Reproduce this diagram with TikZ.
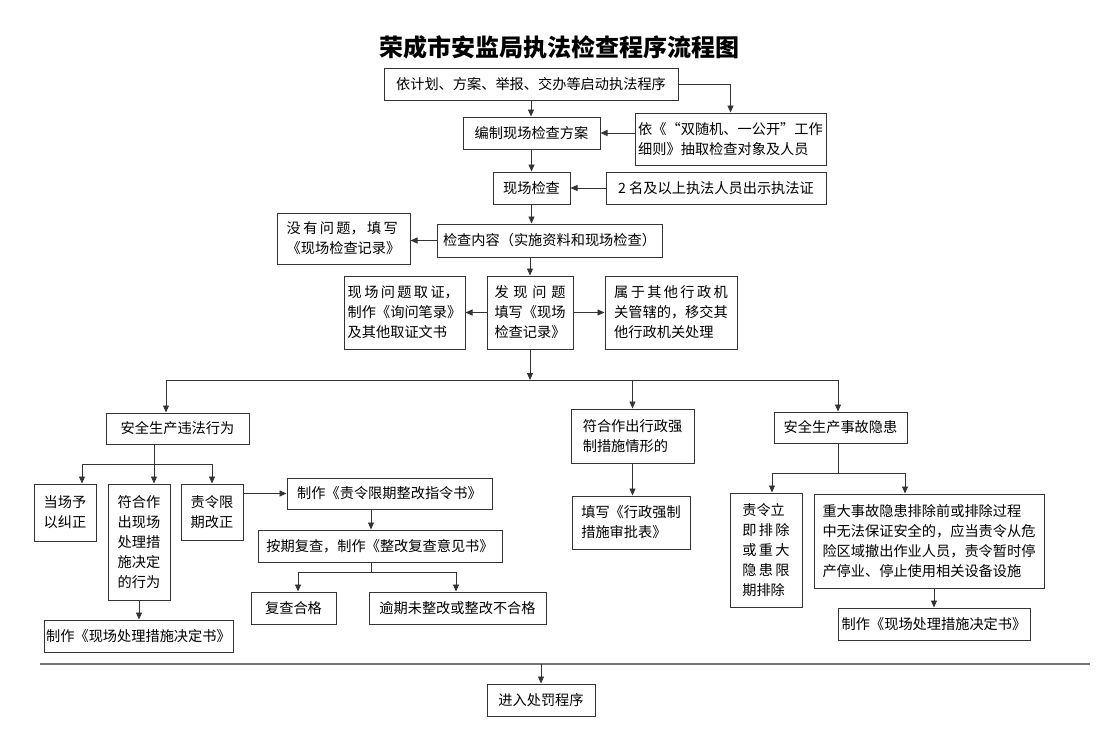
\documentclass[tikz,border=0pt]{standalone}
\usepackage{fontspec}
\setmainfont{Noto Sans CJK SC}
\usetikzlibrary{arrows.meta, positioning}

\newcommand{\flowtext}{\fontsize{14.2}{20}\selectfont}
\newcommand{\flowtitle}{\fontsize{24}{28}\selectfont\bfseries}

\begin{document}
\begin{tikzpicture}[
        x=1pt, y=-1pt,
        box/.style={
            rectangle,
            draw=black!80,
            line width=1pt,
            inner sep=0pt,
            align=center,
            font=\flowtext
        },
        wh/.style 2 args={minimum width=#1pt, minimum height=#2pt},
        link/.style={draw=black!80, line width=0.9pt},
        >={Triangle[length=7pt, width=6pt]}
    ]

    \useasboundingbox (0,0) rectangle (1112,742);

    % Title
    \node[font=\flowtitle] (title) at (559,47) {荣成市安监局执法检查程序流程图};

    % Nodes: upper part
    \node[box, wh={294}{32}] (start) at (531,84) {依计划、方案、举报、交办等启动执法程序};
    \node[box, wh={137}{32}] (plan) at (531.5,133) {编制现场检查方案};
    \node[box, wh={191}{52}, align=left] (rand) at (730.5,139) {依《“双随机、一公开”工作\\细则》抽取检查对象及人员};
    \node[box, wh={77}{32}] (check) at (531.5,188) {现场检查};
    \node[box, wh={220}{32}] (cert) at (716,188) {2 名及以上执法人员出示执法证};
    \node[box, wh={225}{33}] (content) at (549.5,240.5) {检查内容（实施资料和现场检查）};
    \node[box, wh={133}{51}, align=left] (none) at (343.5,238.5) {没\,有\,问\,题，\,填\,写\\《现场检查记录》};
    \node[box, wh={86}{73}] (found) at (530,312.5) {发\,\,现\,\,问\,\,题\\填写《现场\\检查记录》};
    \node[box, wh={121}{73}, align=left] (evid) at (404.5,312.5) {现\,场\,问\,题\,取\,证，\\制作《询问笔录》\\及其他取证文书};
    \node[box, wh={132}{73}, align=left] (other) at (671,312.5) {属\,于\,其\,他\,行\,政\,机\\关管辖的，移交其\\他行政机关处理};

    % Nodes: safety violations
    \node[box, wh={143}{31}] (viol) at (177.5,428.5) {安全生产违法行为};
    \node[box, wh={62}{57}] (spot) at (65,512.5) {当场予\\以纠正};
    \node[box, wh={62}{116}] (onsite) at (139,542) {符合作\\出现场\\处理措\\施决定\\的行为};
    \node[box, wh={62}{56}] (order) at (212,512) {责令限\\期改正};
    \node[box, wh={205}{31}] (decree) at (389.5,493.5) {制作《责令限期整改指令书》};
    \node[box, wh={244}{32}] (review) at (380,546) {按期复查，制作《整改复查意见书》};
    \node[box, wh={85}{32}] (pass) at (293.5,608) {复查合格};
    \node[box, wh={177}{32}] (fail) at (457.5,608) {逾期未整改或整改不合格};
    \node[box, wh={189}{32}] (decL) at (138.5,636) {制作《现场处理措施决定书》};

    % Nodes: compulsory measures
    \node[box, wh={123}{54}, align=left] (force) at (632.5,436) {符合作出行政强\\制措施情形的};
    \node[box, wh={118}{53}, align=left] (form) at (631,522.5) {填写《行政强制\\措施审批表》};

    % Nodes: hidden hazards
    \node[box, wh={133}{31}] (hazard) at (840.5,427.5) {安全生产事故隐患};
    \node[box, wh={72}{114}, align=left] (immed) at (766,550) {责令立\\即\,排\,除\\或\,重\,大\\隐\,患\,限\\期排除};
    \node[box, wh={230}{94}, align=left] (major) at (929,541) {重大事故隐患排除前或排除过程\\中无法保证安全的，应当责令从危\\险区域撤出作业人员，责令暂时停\\产停业、停止使用相关设备设施};
    \node[box, wh={192}{32}] (decR) at (934,624) {制作《现场处理措施决定书》};

    % Nodes: penalty
    \node[box, wh={108}{32}] (punish) at (541,700) {进入处罚程序};

    % Junction points
    \coordinate (busL) at (166,380);
    \coordinate (busR) at (838,380);
    \coordinate (vj) at (154,464);
    \coordinate (rj) at (371,572);
    \coordinate (hj) at (838,473);
    \coordinate (endL) at (40,664);
    \coordinate (endR) at (1090,664);

    % Arrows: upper part
    \draw[link, ->] (start) -- (start |- plan.north);
    \draw[link, ->] (start.east) -| (rand.north);
    \draw[link, ->] (rand.west |- plan) -- (plan.east);
    \draw[link, ->] (plan) -- (plan |- check.north);
    \draw[link, ->] (cert) -- (check);
    \draw[link, ->] (check) -- (check |- content.north);
    \draw[link, ->] (content.west) -- (content.west -| none.east);
    \draw[link, ->] (found.north |- content.south) -- (found.north);
    \draw[link, ->] (found) -- (evid);
    \draw[link, ->] (found) -- (other);

    % Arrows: distribution line
    \draw[link, ->] (found) -- (found |- busL);
    \draw[link] (busL) -- (busR);
    \draw[link, ->] (busL) -- (busL |- viol.north);
    \draw[link, ->] (force.north |- busL) -- (force.north);
    \draw[link, ->] (busR) -- (busR |- hazard.north);

    % Arrows: safety violations
    \draw[link] (vj |- viol.south) -- (vj);
    \draw[link, ->] (vj) -| ([xshift=17]spot.north);
    \draw[link, ->] (vj) -- (vj |- onsite.north);
    \draw[link, ->] (vj) -| (order.north);
    \draw[link, ->] (order.east |- decree.west) -- (decree.west);
    \draw[link, ->] (rj |- decree.south) -- (rj |- review.north);
    \draw[link] (rj |- review.south) -- (rj);
    \draw[link, ->] (rj) -| ([xshift=4.5]pass.north);
    \draw[link, ->] (rj) -| ([xshift=-1.5]fail.north);
    \draw[link, ->] (onsite) -- (onsite |- decL.north);

    % Arrows: compulsory measures
    \draw[link, ->] (force) -- (force |- form.north);

    % Arrows: hidden hazards
    \draw[link] (hj |- hazard.south) -- (hj);
    \draw[link, ->] (hj) -| ([xshift=6]immed.north);
    \draw[link, ->] (hj) -| ([xshift=-24]major.north);
    \draw[link, ->] (decR.north |- major.south) -- (decR.north);

    % Arrows: to penalty
    \draw[link, draw=black!55, line width=1.5pt] (endL) -- (endR);
    \draw[link, ->] (punish.north |- endL) -- (punish.north);

\end{tikzpicture}
\end{document}
